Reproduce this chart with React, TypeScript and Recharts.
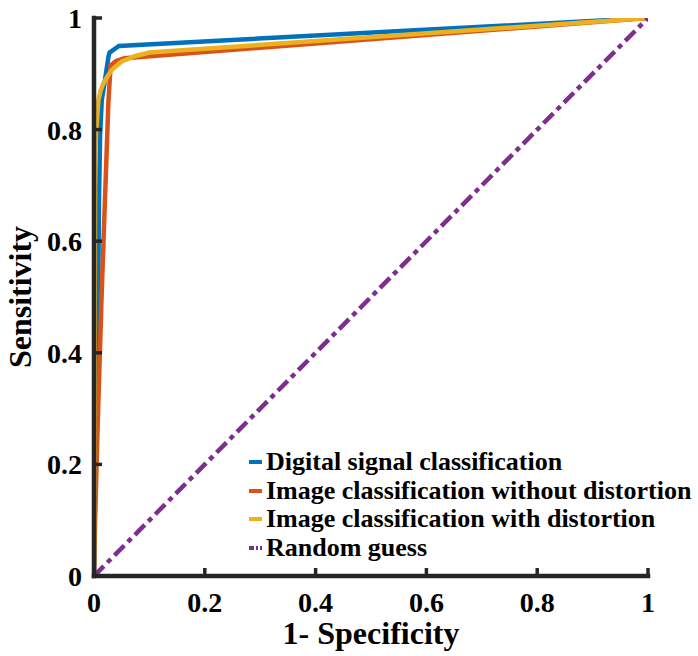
import React from 'react';
import { LineChart, Line, XAxis, YAxis, Legend } from 'recharts';

const FONT = '"Liberation Serif", "Times New Roman", Times, serif';
const AXIS_COLOR = '#262626';

const axisTicks = [0, 0.2, 0.4, 0.6, 0.8, 1];
const tickLabels = ['0', '0.2', '0.4', '0.6', '0.8', '1'];

const seriesNames = [
  'Digital signal classification',
  'Image classification without distortion',
  'Image classification with distortion',
  'Random guess',
];
const seriesColors = ['#0072BD', '#D95319', '#EDB120', '#7E2F8E'];

const fprDigital = [0, 0.002, 0.005, 0.007, 0.009, 0.011, 0.014, 0.02, 0.026, 0.028, 0.045, 1];
const tprDigital = [0, 0.15, 0.3, 0.43, 0.67, 0.79, 0.853, 0.89, 0.93, 0.938, 0.95, 1];

const fprNoDist = [0, 0.002, 0.006, 0.01, 0.014, 0.02, 0.026, 0.03, 0.04, 0.055, 1];
const tprNoDist = [0, 0.1, 0.25, 0.38, 0.51, 0.68, 0.85, 0.915, 0.923, 0.928, 1];

const fprDist = [0, 0.001, 0.002, 0.004, 0.008, 0.012, 0.017, 0.024, 0.032, 0.05, 0.075, 0.1, 1];
const tprDist = [0, 0.35, 0.75, 0.8, 0.853, 0.87, 0.883, 0.895, 0.907, 0.922, 0.932, 0.938, 1];

const fprRandom = [0, 1];
const tprRandom = [0, 1];

const toPoints = (fpr: number[], tpr: number[]) => fpr.map((x, i) => ({ fpr: x, tpr: tpr[i] }));

const dataSets = [
  toPoints(fprDigital, tprDigital),
  toPoints(fprNoDist, tprNoDist),
  toPoints(fprDist, tprDist),
  toPoints(fprRandom, tprRandom),
];

const TICK_MARGIN = 12;
const TICK_LEN = 8;

const labelFor = (v: number) => {
  const i = axisTicks.indexOf(v);
  return i >= 0 ? tickLabels[i] : String(v);
};

const XTick = (props: any) => {
  const { x, y, payload } = props;
  const axisY = y - TICK_MARGIN;
  return (
    <g>
      <line x1={x} x2={x} y1={axisY} y2={axisY - TICK_LEN} stroke={AXIS_COLOR} strokeWidth={3.5} />
      <text x={x} y={y + 24} textAnchor="middle" fontFamily={FONT} fontWeight="bold" fontSize={28} fill="#000">
        {labelFor(payload.value)}
      </text>
    </g>
  );
};

const YTick = (props: any) => {
  const { x, y, payload } = props;
  const axisX = x + TICK_MARGIN;
  return (
    <g>
      <line x1={axisX} x2={axisX + TICK_LEN} y1={y} y2={y} stroke={AXIS_COLOR} strokeWidth={3.5} />
      <text x={x} y={y + 10} textAnchor="end" fontFamily={FONT} fontWeight="bold" fontSize={28} fill="#000">
        {labelFor(payload.value)}
      </text>
    </g>
  );
};

const LegendContent = () => (
  <div style={{ fontFamily: FONT, fontWeight: 'bold', fontSize: 26, lineHeight: '28.5px', color: '#000' }}>
    {seriesNames.map((name, i) => (
      <div key={name} style={{ display: 'flex', alignItems: 'center', whiteSpace: 'nowrap' }}>
        <svg width={16} height={10} style={{ marginRight: 2 }}>
          <line
            x1={1}
            x2={14}
            y1={5}
            y2={5}
            stroke={seriesColors[i]}
            strokeWidth={4}
            strokeDasharray={i === 3 ? '5 2 2 2' : undefined}
          />
        </svg>
        <span>{name}</span>
      </div>
    ))}
  </div>
);

export default function App() {
  return (
    <div style={{ position: 'absolute', left: 0, top: 0, background: '#fff' }}>
      <LineChart width={698} height={656} margin={{ top: 18, right: 50, left: 0, bottom: 0 }}>
        <XAxis
          type="number"
          dataKey="fpr"
          domain={[0, 1]}
          ticks={axisTicks}
          height={80}
          tickSize={0}
          tickMargin={TICK_MARGIN}
          tick={<XTick />}
          axisLine={{ stroke: AXIS_COLOR, strokeWidth: 4.5, strokeLinecap: 'square' }}
          allowDataOverflow
          label={{
            content: (p: any) => {
              const vb = p.viewBox;
              return (
                <text
                  x={vb.x + vb.width / 2}
                  y={vb.y + 68}
                  textAnchor="middle"
                  fontFamily={FONT}
                  fontWeight="bold"
                  fontSize={32}
                  fill="#000"
                >
                  1- Specificity
                </text>
              );
            },
          }}
        />
        <YAxis
          type="number"
          dataKey="tpr"
          domain={[0, 1]}
          ticks={axisTicks}
          width={94}
          tickSize={0}
          tickMargin={TICK_MARGIN}
          tick={<YTick />}
          axisLine={{ stroke: AXIS_COLOR, strokeWidth: 4.5, strokeLinecap: 'square' }}
          allowDataOverflow
          label={{
            content: (p: any) => {
              const vb = p.viewBox;
              const cx = vb.x + vb.width - 63;
              const cy = vb.y + vb.height / 2;
              return (
                <text
                  x={cx}
                  y={cy}
                  transform={`rotate(-90 ${cx} ${cy})`}
                  textAnchor="middle"
                  fontFamily={FONT}
                  fontWeight="bold"
                  fontSize={32}
                  fill="#000"
                >
                  Sensitivity
                </text>
              );
            },
          }}
        />
        <Legend
          layout="vertical"
          verticalAlign="middle"
          align="center"
          content={<LegendContent />}
          wrapperStyle={{ position: 'absolute', left: 248, top: 448, width: 460 }}
        />
        {dataSets.map((d, i) => (
          <Line
            key={seriesNames[i]}
            data={d}
            dataKey="tpr"
            name={seriesNames[i]}
            type="linear"
            stroke={seriesColors[i]}
            strokeWidth={4.5}
            strokeDasharray={i === 3 ? '14 5 5 5' : undefined}
            dot={false}
            activeDot={false}
            isAnimationActive={false}
          />
        ))}
      </LineChart>
    </div>
  );
}
